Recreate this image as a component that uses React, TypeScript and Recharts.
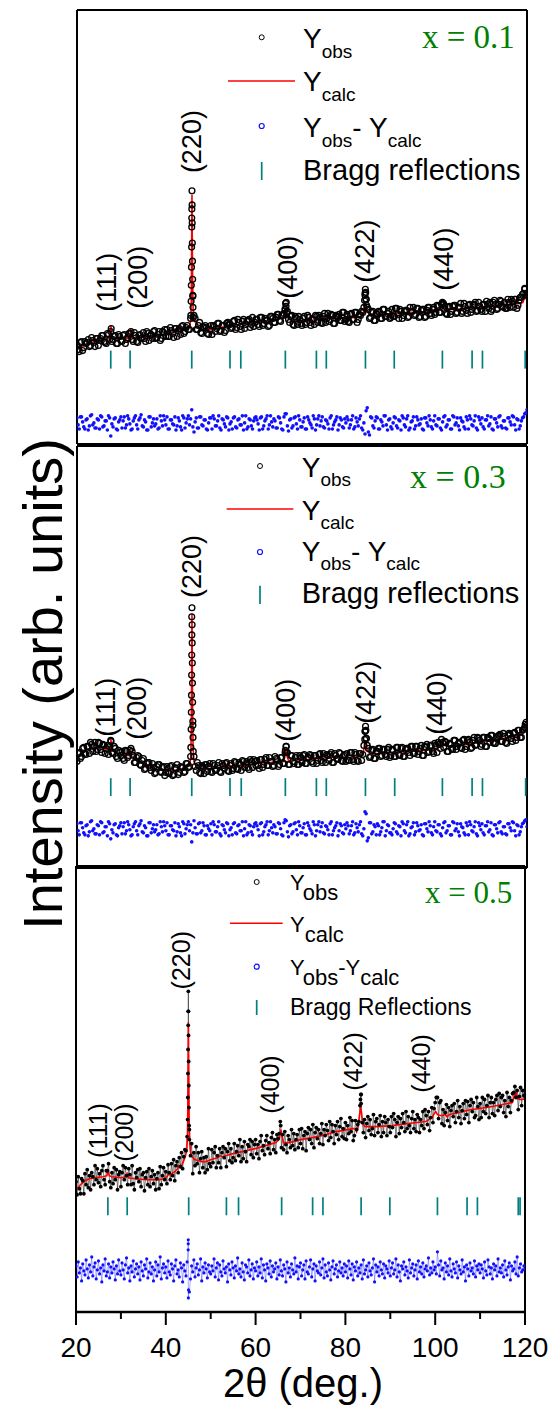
import React from 'react';
import { ComposedChart, Line, Scatter, XAxis, YAxis } from 'recharts';

// scan grid of the observed patterns (2theta, deg.)
const START = 20;
const STEP_HALF = 0.5;
const STEP_QUARTER = 0.25;

// ---------- x = 0.1 (intensity, arb. units) ----------
// observed, at 20.0, 20.5, 21.0 ...
const obsA = [
  98, 92, 102, 96, 100, 104, 98, 103, 97, 105, 103, 108, 102, 100, 109, 112, 104, 108, 100, 107,
  102, 109, 104, 110, 112, 102, 108, 101, 109, 106, 105, 112, 103, 109, 112, 105, 109, 103, 112, 114,
  114, 107, 113, 106, 115, 113, 109, 118, 112, 118, 114, 225, 128, 114, 118, 111, 117, 118, 110, 114,
  109, 117, 115, 120, 113, 118, 113, 121, 119, 116, 123, 116, 121, 114, 124, 119, 123, 116, 126, 121,
  124, 117, 126, 120, 123, 117, 127, 125, 121, 129, 123, 128, 130, 141, 124, 127, 119, 127, 119, 124,
  118, 127, 121, 126, 118, 124, 128, 121, 126, 120, 130, 125, 122, 129, 120, 128, 126, 123, 131, 122,
  129, 121, 130, 124, 131, 124, 128, 131, 148, 136, 125, 131, 123, 130, 132, 125, 134, 127, 130, 125,
  134, 127, 135, 125, 132, 128, 133, 126, 136, 132, 128, 135, 126, 133, 134, 127, 136, 130, 134, 129,
  138, 131, 139, 139, 130, 136, 129, 137, 138, 131, 136, 130, 140, 133, 138, 131, 138, 141, 133, 137,
  132, 139, 142, 135, 132, 141, 139, 135, 143, 137, 141, 135, 141, 144, 136, 144, 138, 146, 149, 154,
  148,
];
// observed, at 20.25, 20.75, 21.25 ...
const obsA2 = [
  94, 101, 93, 102, 101, 97, 106, 101, 105, 98, 105, 108, 101, 110, 104, 102, 107, 100, 109, 103,
  108, 100, 106, 110, 104, 111, 102, 108, 105, 111, 102, 110, 108, 105, 113, 106, 112, 105, 111, 107,
  107, 116, 110, 115, 107, 115, 117, 110, 116, 114, 125, 147, 125, 114, 121, 110, 116, 116, 109, 118,
  118, 112, 120, 112, 118, 111, 120, 119, 115, 122, 114, 124, 117, 122, 115, 122, 124, 119, 117, 124,
  119, 126, 118, 125, 123, 118, 127, 121, 126, 129, 122, 128, 134, 132, 121, 128, 118, 125, 127, 120,
  125, 119, 128, 121, 124, 119, 127, 128, 121, 127, 121, 130, 124, 128, 120, 127, 129, 123, 131, 124,
  122, 129, 124, 131, 121, 129, 132, 136, 144, 134, 126, 132, 123, 129, 131, 125, 134, 127, 132, 126,
  127, 135, 129, 134, 125, 132, 133, 127, 132, 136, 129, 135, 127, 134, 126, 133, 136, 128, 136, 131,
  137, 131, 140, 137, 129, 137, 132, 138, 130, 136, 140, 132, 137, 130, 139, 134, 139, 132, 141, 134,
  139, 132, 139, 141, 134, 143, 134, 139, 142, 136, 135, 144, 136, 142, 144, 135, 143, 146, 150, 150,
];
const obsPeaksA: [number, number][] = [
  [27.6, 115], [45.3, 128], [45.36, 142], [45.4, 158], [45.44, 176], [45.47, 196], [45.5, 216],
  [45.52, 234], [45.55, 252], [45.58, 238], [45.6, 220], [45.63, 200], [45.66, 182], [45.7, 164],
  [45.74, 148], [45.78, 136], [45.84, 126], [66.25, 134], [66.35, 140], [66.45, 137], [66.6, 130],
  [83.9, 143], [84.0, 150], [84.08, 154], [84.16, 151], [84.25, 144], [84.35, 138], [101.2, 141],
  [101.4, 140], [119.5, 155],
];
const calcA: [number, number][] = [
  [20, 95], [21, 97], [22, 99], [23, 101], [24, 102], [25, 103], [26, 104], [27.4, 105], [27.55, 118],
  [27.7, 105], [29, 105], [31, 105], [31.8, 106], [31.95, 115], [32.1, 106], [34, 106], [36, 107],
  [38, 108], [40, 110], [42, 112], [44, 114], [45, 117], [45.3, 124], [45.4, 145], [45.47, 190],
  [45.55, 248], [45.63, 195], [45.7, 160], [45.8, 135], [46, 124], [46.5, 119], [47, 116], [48, 114],
  [49, 113], [50, 114], [52, 116], [53.9, 118], [54.0, 121], [54.1, 118], [56, 119], [58, 120],
  [60, 121], [62, 122], [64, 123], [65.8, 126], [66.2, 131], [66.4, 136], [66.6, 130], [67, 125],
  [68, 123], [69.5, 122], [72, 123], [75, 125], [78, 125], [82, 126], [83, 127], [83.6, 130],
  [83.9, 136], [84.1, 141], [84.3, 136], [84.6, 131], [85.2, 128], [87, 128], [90, 130], [94, 131],
  [98, 131], [100, 133], [100.8, 134], [101.3, 136], [101.8, 134], [104, 134], [107, 135], [110, 136],
  [113, 138], [116, 139], [118.6, 140], [119.1, 141], [119.4, 145], [120, 145],
];
// difference, at 20.0, 20.5 ...
const diffA = [
  26, 15, 27, 17, 24, 14, 28, 19, 16, 25, 15, 27, 18, 23, 28, 8, 17, 26, 14, 24,
  16, 27, 19, 25, 14, 23, 28, 15, 26, 18, 24, 14, 27, 17, 25, 20, 15, 28, 18, 24,
  27, 15, 24, 19, 14, 26, 17, 28, 16, 25, 19, 34, 12, 26, 16, 27, 18, 24, 14, 26,
  15, 25, 18, 28, 14, 24, 17, 26, 20, 15, 27, 16, 25, 19, 14, 28, 17, 24, 15, 26,
  24, 14, 27, 18, 25, 15, 28, 17, 23, 16, 26, 15, 27, 30, 13, 25, 18, 27, 15, 24,
  17, 26, 15, 24, 19, 28, 14, 25, 18, 27, 16, 23, 15, 28, 19, 24, 14, 26, 17, 25,
  27, 16, 24, 15, 26, 18, 28, 14, 10, 36, 9, 26, 16, 27, 15, 24, 18, 28, 14, 25,
  15, 27, 18, 24, 14, 26, 17, 28, 16, 23, 15, 27, 19, 25, 14, 26, 18, 24, 15, 28,
  18, 25, 14, 27, 17, 24, 15, 28, 19, 26, 14, 23, 17, 27, 15, 25, 18, 28, 14, 24,
  26, 15, 24, 18, 27, 14, 25, 17, 28, 16, 23, 15, 26, 19, 27, 14, 24, 18, 26, 30,
  34,
];
// difference, at 20.25, 20.75 ...
const diffA2 = [
  19, 27, 22, 15, 25, 18, 29, 21, 16, 24, 28, 17, 23, 14, 26, 20, 25, 15, 22, 27,
  23, 16, 28, 20, 15, 26, 19, 24, 29, 17, 22, 14, 27, 21, 18, 25, 16, 23, 28, 19,
  15, 24, 20, 27, 18, 23, 14, 26, 21, 28, 25, 17, 22, 16, 27, 19, 24, 15, 21, 26,
  28, 18, 23, 16, 25, 20, 27, 14, 22, 26, 17, 24, 19, 28, 21, 15, 25, 18, 23, 27,
  20, 26, 15, 23, 28, 19, 22, 25, 16, 27, 21, 14, 30, 18, 24, 16, 26, 20, 28, 17,
  22, 15, 27, 21, 16, 25, 19, 28, 23, 17, 24, 20, 26, 15, 22, 27, 19, 24, 16, 21,
  24, 19, 28, 17, 22, 25, 16, 21, 33, 12, 27, 18, 23, 26, 15, 22, 28, 19, 24, 17,
  21, 26, 16, 23, 28, 19, 25, 14, 22, 27, 18, 24, 20, 15, 26, 21, 28, 17, 23, 19,
  25, 16, 22, 28, 19, 24, 15, 27, 21, 18, 26, 22, 15, 24, 28, 19, 23, 16, 27, 20,
  17, 24, 28, 20, 15, 25, 21, 27, 18, 23, 16, 26, 22, 28, 19, 25, 15, 23, 27, 31,
];
const braggA = [27.5, 31.8, 45.5, 54.0, 56.4, 66.3, 73.2, 75.4, 84.1, 90.5, 101.2, 107.8, 110.1, 119.6];
const hklPosA: [number, number][] = [[26.7, 161], [33.6, 166], [45.5, 301], [66.8, 176], [84.1, 192], [101.5, 184]];

// ---------- x = 0.3 ----------
const obsB = [
  106, 115, 111, 120, 113, 121, 125, 116, 125, 118, 124, 115, 122, 119, 113, 127, 114, 119, 109, 115,
  116, 107, 116, 112, 119, 112, 105, 112, 103, 107, 98, 104, 105, 97, 100, 95, 103, 96, 100, 92,
  101, 94, 102, 93, 99, 93, 101, 100, 96, 104, 101, 250, 111, 97, 102, 94, 101, 103, 96, 104,
  95, 102, 98, 105, 95, 102, 104, 97, 102, 97, 106, 99, 105, 97, 106, 103, 100, 108, 100, 106,
  107, 99, 108, 103, 110, 102, 106, 101, 111, 108, 103, 110, 104, 121, 103, 112, 106, 110, 103, 112,
  105, 113, 104, 110, 112, 104, 112, 107, 114, 105, 110, 113, 107, 115, 105, 112, 108, 114, 106, 113,
  114, 107, 115, 106, 113, 106, 114, 113, 136, 122, 110, 117, 109, 116, 119, 111, 118, 113, 118, 110,
  118, 111, 120, 113, 119, 111, 118, 119, 112, 121, 114, 121, 116, 122, 112, 120, 115, 122, 116, 124,
  115, 123, 128, 120, 125, 116, 123, 118, 127, 121, 125, 119, 128, 121, 128, 119, 127, 122, 130, 127,
  123, 130, 121, 129, 132, 125, 124, 131, 133, 126, 131, 124, 134, 129, 134, 127, 137, 130, 137, 140,
  142,
];
const obsB2 = [
  114, 109, 119, 114, 121, 114, 123, 121, 116, 125, 118, 123, 114, 122, 121, 115, 121, 111, 117, 112,
  109, 117, 110, 117, 116, 105, 110, 111, 102, 109, 99, 105, 100, 104, 94, 101, 103, 95, 101, 95,
  95, 101, 92, 100, 103, 95, 100, 95, 104, 100, 111, 142, 101, 105, 95, 102, 94, 103, 101, 96,
  104, 97, 102, 96, 104, 99, 105, 96, 104, 99, 105, 98, 103, 107, 100, 106, 98, 106, 108, 102,
  102, 108, 100, 108, 102, 110, 106, 102, 109, 101, 110, 104, 115, 115, 103, 112, 104, 112, 103, 110,
  112, 104, 110, 113, 106, 112, 104, 113, 107, 114, 105, 112, 113, 105, 114, 109, 115, 107, 112, 106,
  107, 115, 108, 115, 107, 114, 107, 122, 129, 119, 111, 118, 109, 116, 119, 112, 118, 111, 120, 112,
  117, 111, 120, 112, 120, 111, 119, 115, 121, 114, 121, 113, 119, 112, 121, 123, 116, 122, 114, 122,
  125, 119, 125, 126, 116, 124, 119, 127, 118, 124, 120, 127, 118, 127, 125, 120, 130, 123, 129, 121,
  130, 121, 130, 125, 132, 124, 130, 132, 126, 134, 125, 132, 133, 126, 135, 130, 137, 130, 138, 139,
];
const obsPeaksB: [number, number][] = [
  [27.55, 126], [45.3, 120], [45.36, 138], [45.4, 155], [45.44, 172], [45.47, 192], [45.5, 212],
  [45.52, 232], [45.55, 259], [45.58, 242], [45.6, 224], [45.63, 204], [45.66, 184], [45.7, 165],
  [45.74, 146], [45.78, 130], [45.84, 116], [66.3, 117], [66.45, 121], [66.6, 115], [83.95, 128],
  [84.05, 136], [84.12, 141], [84.2, 137], [84.3, 129], [119.6, 143], [119.8, 145],
];
const calcB: [number, number][] = [
  [20, 109], [21, 113], [22, 117], [23, 119], [24, 120], [25, 120], [26, 119], [27.4, 117], [27.55, 128],
  [27.7, 117], [29, 114], [30.5, 112], [31.7, 112], [31.85, 117], [32, 111], [33, 109], [34, 106],
  [35, 103], [36, 101], [37, 99], [38, 98], [39, 97], [42, 97], [44, 99], [45, 102], [45.3, 110],
  [45.4, 140], [45.47, 190], [45.55, 253], [45.63, 195], [45.7, 155], [45.8, 120], [46, 106],
  [46.5, 101], [47.5, 99], [50, 99], [53.5, 100], [54.0, 102], [54.2, 100], [57, 102], [60, 104],
  [63, 105], [65.9, 106], [66.2, 112], [66.4, 118], [66.6, 112], [67, 107], [70, 108], [72, 108],
  [76, 110], [81.7, 110], [83, 112], [83.6, 115], [83.9, 122], [84.1, 127], [84.3, 121], [84.6, 116],
  [85.3, 114], [87, 114], [90, 115], [94, 116], [97, 117], [100.1, 119], [100.8, 121], [101.2, 123],
  [101.7, 122], [103, 121], [105.3, 122], [108, 124], [110, 126], [112.7, 127], [116, 130],
  [118.7, 132], [119.2, 135], [119.5, 137], [120, 137],
];
const diffB = [
  44, 33, 45, 35, 42, 32, 46, 37, 34, 43, 33, 45, 36, 41, 46, 29, 35, 44, 32, 42,
  34, 45, 37, 43, 32, 41, 46, 33, 44, 36, 42, 32, 45, 35, 43, 38, 33, 46, 36, 42,
  45, 33, 42, 37, 32, 44, 35, 46, 34, 43, 37, 26, 47, 34, 44, 35, 45, 33, 42, 37,
  33, 43, 36, 46, 32, 42, 35, 44, 38, 33, 45, 34, 43, 37, 32, 46, 35, 42, 33, 44,
  42, 32, 45, 36, 43, 33, 46, 35, 41, 34, 44, 33, 45, 47, 31, 43, 36, 45, 33, 42,
  35, 44, 33, 42, 37, 46, 32, 43, 36, 45, 34, 41, 33, 46, 37, 42, 32, 44, 35, 43,
  45, 34, 42, 33, 44, 36, 46, 32, 56, 27, 45, 34, 43, 33, 42, 36, 46, 32, 43, 35,
  33, 45, 36, 42, 32, 44, 35, 46, 34, 41, 33, 45, 37, 43, 32, 44, 36, 42, 33, 46,
  36, 43, 32, 45, 35, 42, 33, 46, 37, 44, 32, 41, 35, 45, 33, 43, 36, 46, 32, 42,
  44, 33, 42, 36, 45, 32, 43, 35, 46, 34, 41, 33, 44, 37, 45, 32, 42, 36, 44, 47,
  41,
];
const diffB2 = [
  37, 45, 40, 33, 43, 36, 47, 39, 34, 42, 46, 35, 41, 32, 44, 38, 43, 33, 40, 45,
  41, 34, 46, 38, 33, 44, 37, 42, 47, 35, 40, 32, 45, 39, 36, 43, 34, 41, 46, 37,
  33, 42, 38, 45, 36, 41, 32, 44, 39, 46, 43, 35, 40, 34, 45, 37, 42, 33, 39, 44,
  46, 36, 41, 34, 43, 38, 45, 32, 40, 44, 35, 42, 37, 46, 39, 33, 43, 36, 41, 45,
  38, 44, 33, 41, 46, 37, 40, 43, 34, 45, 39, 32, 48, 36, 42, 34, 44, 38, 46, 35,
  40, 33, 45, 39, 34, 43, 37, 46, 41, 35, 42, 38, 44, 33, 40, 45, 37, 42, 34, 39,
  42, 37, 46, 35, 40, 43, 34, 39, 54, 30, 45, 36, 41, 44, 33, 40, 46, 37, 42, 35,
  39, 44, 34, 41, 46, 37, 43, 32, 40, 45, 36, 42, 38, 33, 44, 39, 46, 35, 41, 37,
  43, 34, 40, 46, 37, 42, 33, 45, 39, 36, 44, 40, 33, 42, 46, 37, 41, 34, 45, 38,
  35, 42, 46, 38, 33, 43, 39, 45, 36, 41, 34, 44, 40, 46, 37, 43, 33, 41, 45, 48,
];
const braggB = [27.5, 31.8, 45.5, 54.0, 56.5, 66.3, 73.2, 75.4, 84.1, 90.6, 101.2, 107.8, 110.1, 119.7];
const hklPosB: [number, number][] = [[26.5, 160], [33.4, 159], [45.5, 300], [66.5, 157], [84.3, 175], [99.9, 164]];

// ---------- x = 0.5 ----------
const obsC = [
  130, 117, 135, 123, 118, 133, 131, 118, 138, 127, 142, 124, 136, 122, 139, 135, 127, 146, 132, 143,
  129, 138, 125, 141, 146, 132, 127, 141, 141, 148, 130, 124, 139, 128, 144, 132, 142, 122, 137, 140,
  125, 139, 146, 132, 144, 136, 127, 143, 137, 127, 146, 128, 122, 139, 134, 142, 130, 143, 125, 137,
  139, 121, 134, 140, 127, 143, 125, 135, 141, 128, 137, 122, 133, 139, 123, 145, 127, 136, 144, 132,
  140, 128, 147, 139, 132, 148, 136, 152, 131, 146, 150, 139, 154, 145, 159, 143, 155, 162, 161, 175,
  300, 182, 156, 168, 138, 159, 146, 165, 148, 159, 139, 153, 160, 144, 154, 139, 155, 142, 163, 148,
  145, 162, 149, 159, 165, 144, 156, 149, 163, 144, 159, 165, 154, 163, 145, 160, 168, 151, 163, 149,
  154, 168, 151, 160, 166, 156, 172, 150, 165, 153, 170, 160, 150, 167, 165, 172, 157, 170, 154, 167,
  172, 158, 167, 153, 170, 176, 161, 166, 157, 171, 176, 163, 169, 158, 174, 179, 162, 172, 159, 177,
  173, 178, 190, 164, 177, 162, 180, 167, 159, 176, 172, 164, 182, 166, 178, 162, 172, 177, 164, 182,
  168, 183, 163, 176, 180, 161, 178, 184, 172, 182, 168, 187, 164, 179, 184, 173, 182, 168, 178, 188,
  167, 182, 176, 187, 181, 171, 190, 174, 187, 180, 168, 186, 177, 190, 172, 185, 193, 175, 183, 173,
  189, 172, 186, 178, 194, 180, 191, 171, 176, 191, 182, 187, 190, 206, 217, 189, 179, 192, 174, 188,
  195, 181, 192, 177, 183, 197, 176, 190, 193, 179, 187, 196, 175, 190, 179, 195, 189, 176, 192, 185,
  179, 195, 184, 198, 192, 175, 189, 195, 178, 193, 184, 198, 189, 180, 200, 183, 195, 186, 179, 193,
  200, 183, 192, 180, 197, 194, 179, 192, 186, 200, 183, 202, 196, 187, 200, 181, 194, 204, 189, 203,
  209, 214, 214, 193, 209, 211, 188, 202, 186, 199, 207, 191, 204, 185, 201, 206, 195, 208, 189, 200,
  211, 194, 205, 188, 201, 208, 193, 211, 197, 210, 189, 206, 212, 200, 209, 194, 196, 214, 205, 192,
  208, 194, 214, 200, 212, 198, 206, 216, 194, 209, 214, 198, 209, 196, 212, 216, 201, 218, 205, 214,
  216, 199, 211, 195, 219, 205, 214, 199, 211, 218, 219, 225, 214, 221, 202, 215, 224, 206, 221, 216,
  215,
];
const obsPeaksC: [number, number][] = [
  [44.86, 192], [44.9, 214], [44.93, 238], [44.96, 262], [44.99, 286], [45.02, 320], [45.04, 300],
  [45.06, 276], [45.09, 250], [45.12, 226], [45.15, 204], [45.19, 186], [45.24, 172], [83.35, 212],
  [83.45, 217], [83.5, 208], [65.6, 186],
];
const calcC: [number, number][] = [
  [20, 122], [21, 127], [22, 131], [23, 133], [24, 134], [26, 135], [26.9, 136], [27.1, 142], [27.4, 136],
  [28, 135], [30, 134], [31.1, 135], [31.4, 138], [31.7, 134], [33, 133], [36, 132], [38.5, 132],
  [39.5, 133], [40.3, 135], [40.7, 138], [41.0, 137], [42, 140], [42.6, 143], [42.9, 146], [43.2, 144],
  [43.6, 147], [44, 151], [44.4, 156], [44.7, 163], [44.85, 178], [44.95, 230], [45.03, 289],
  [45.1, 240], [45.2, 190], [45.35, 168], [45.5, 160], [45.8, 156], [46.2, 153], [46.6, 152], [48, 150],
  [48.9, 150], [50, 152], [51.5, 154], [52.1, 156], [52.6, 155], [53.3, 156], [55, 158], [58, 161],
  [60.8, 164], [63, 167], [64.5, 169], [65.2, 172], [65.5, 178], [65.65, 182], [65.9, 175], [66.2, 169],
  [67.5, 169], [70, 172], [72.7, 174], [75.6, 177], [78, 180], [81.6, 183], [82.3, 183], [82.5, 180],
  [82.8, 184], [83.2, 198], [83.4, 205], [83.6, 198], [83.8, 190], [84.1, 186], [84.5, 185], [87, 185],
  [90.4, 186], [94, 188], [97.9, 190], [99.3, 194], [99.8, 198], [100.1, 200], [100.5, 197], [101.0, 196],
  [101.6, 196], [102.2, 197], [102.6, 195], [103.2, 197], [105.3, 199], [108, 202], [110, 203],
  [112.7, 205], [115, 207], [117.2, 209], [117.5, 214], [117.7, 220], [117.9, 214], [118.1, 219],
  [118.3, 213], [118.8, 212], [119.5, 212], [120, 213],
];
const diffC = [
  46, 35, 50, 39, 44, 31, 48, 41, 37, 52, 43, 34, 47, 40, 55, 36, 45, 49, 33, 42,
  51, 38, 44, 30, 47, 41, 53, 36, 40, 48, 34, 45, 39, 50, 43, 32, 46, 38, 52, 41,
  37, 49, 42, 33, 47, 54, 39, 44, 31, 46, 40, 51, 35, 43, 48, 38, 45, 32, 50, 41,
  36, 47, 43, 53, 34, 40, 49, 38, 45, 31, 42, 50, 36, 47, 40, 55, 33, 44, 48, 39,
  45, 34, 51, 40, 37, 48, 43, 31, 46, 52, 38, 42, 35, 49, 44, 30, 47, 41, 36, 50,
  72, 20, 33, 46, 40, 52, 35, 44, 48, 37, 42, 53, 31, 45, 39, 49, 43, 34, 47, 40,
  38, 46, 41, 53, 35, 44, 49, 32, 47, 40, 36, 51, 43, 39, 45, 30, 48, 42, 37, 50,
  44, 34, 46, 41, 54, 38, 43, 35, 49, 40, 32, 47, 45, 39, 52, 36, 42, 48, 33, 44,
  41, 50, 36, 45, 39, 53, 34, 47, 42, 31, 48, 44, 38, 51, 35, 46, 40, 43, 49, 33,
  45, 37, 52, 41, 36, 47, 43, 30, 50, 39, 44, 35, 48, 42, 38, 54, 40, 46, 33, 45,
  49, 36, 42, 47, 33, 51, 40, 38, 45, 52, 35, 43, 48, 31, 46, 41, 39, 50, 37, 44,
  53, 34, 47, 40, 36, 49, 42, 32, 45, 51, 38, 43, 47, 35, 41, 50, 39, 44, 36, 48,
  40, 46, 34, 51, 43, 37, 48, 32, 45, 41, 50, 36, 44, 39, 47, 33, 52, 38, 42, 46,
  35, 49, 41, 37, 44, 53, 30, 47, 40, 45, 36, 50, 42, 38, 48, 34, 46, 43, 39, 51,
  36, 44, 49, 38, 42, 53, 35, 47, 40, 31, 46, 43, 50, 37, 45, 41, 34, 52, 39, 44,
  48, 36, 42, 47, 33, 51, 40, 45, 38, 49, 35, 43, 46, 41, 54, 37, 44, 39, 50, 42,
  45, 38, 60, 47, 36, 51, 42, 44, 33, 49, 40, 46, 37, 53, 41, 35, 48, 43, 39, 50,
  34, 46, 42, 38, 52, 40, 45, 31, 47, 43, 36, 49, 41, 44, 38, 51, 35, 46, 42, 48,
  39, 47, 43, 34, 50, 41, 37, 52, 45, 38, 44, 33, 48, 42, 46, 36, 53, 40, 44, 39,
  47, 35, 51, 42, 37, 45, 49, 32, 46, 41, 43, 50, 38, 55, 36, 44, 48, 40, 42, 46,
  43,
];
const diffPeaksC: [number, number][] = [[44.98, 62], [45.0, 68], [45.03, 14], [45.06, 22]];
const braggC = [27.1, 31.4, 45.1, 53.5, 56.2, 65.8, 72.7, 75.0, 83.5, 89.9, 100.5, 107.1, 109.4, 118.5, 118.9];
const hklPosC: [number, number][] = [[24.9, 181], [30.7, 179], [43.4, 351], [63.3, 227], [81.6, 250], [96.8, 248]];

const hklNames = ['(111)', '(200)', '(220)', '(400)', '(422)', '(440)'];
const majorTicks = [20, 40, 60, 80, 100, 120];
const bottomTicks = [20, 30, 40, 50, 60, 70, 80, 90, 100, 110, 120];
const edgeTicks = [30, 40, 50, 60, 70, 80, 90, 100, 110];
const yTicksA = [77, 177, 275, 372];
const yTicksB = [35, 122, 210, 297, 385];
const yTicksC = [24, 49, 73, 98, 123, 148, 172, 197, 222, 247, 272, 296, 321, 346, 371, 395, 420];

const SANS = '"Liberation Sans", Arial, sans-serif';
const SERIF = '"Liberation Serif", "Times New Roman", serif';
const TEAL = '#008080';
const BLUE = '#1010ff';

const grid = (vals: number[], from: number, step: number) => vals.map((y, i) => ({ x: from + i * step, y }));
const pts = (list: [number, number][]) => list.map(([x, y]) => ({ x, y }));

const openCircle = (p: any) => <circle cx={p.cx} cy={p.cy} r={2.9} fill="none" stroke="#000" strokeWidth={1.35} />;
const blackDot = (p: any) => <circle cx={p.cx} cy={p.cy} r={1.9} fill="#000" />;
const blueDot = (p: any) => <circle cx={p.cx} cy={p.cy} r={1.6} fill={BLUE} />;
const blueDotBig = (p: any) => <circle cx={p.cx} cy={p.cy} r={1.8} fill={BLUE} />;
const braggMark = (p: any) => (
  <line x1={p.cx} x2={p.cx} y1={p.cy - 9} y2={p.cy + 9} stroke={TEAL} strokeWidth={1.7} />
);

function BottomTick(props: any) {
  const { x, y, payload } = props;
  const major = majorTicks.includes(payload.value);
  return (
    <g>
      <line x1={x} x2={x} y1={y} y2={y + (major ? 13 : 7)} stroke="#000" strokeWidth={2} />
      {major && (
        <text x={x} y={y + 45} textAnchor="middle" fontSize={28} fontFamily={SANS} fill="#000">
          {payload.value}
        </text>
      )}
    </g>
  );
}

interface PanelCfg {
  top: number;
  height: number;
  left: number;
  right: number;
  bottom: boolean;
  obs: { x: number; y: number }[];
  calc: { x: number; y: number }[];
  diff: { x: number; y: number }[];
  bragg: number[];
  braggY: number;
  hkl: [number, number][];
  hklSize: number;
  yTicks: number[];
}

function Panel({ c }: { c: PanelCfg }) {
  const axisH = c.bottom ? 94 : 1;
  const chartH = c.height + 10 + (c.bottom ? axisH : 10);
  const braggData = c.bragg.map((x) => ({ x, y: c.braggY }));
  const hklData = c.hkl.map(([x, y], i) => ({ x, y, name: hklNames[i] }));
  const hklLabel = (p: any) => (
    <text
      x={p.cx}
      y={p.cy}
      transform={`rotate(-90 ${p.cx} ${p.cy})`}
      textAnchor="middle"
      dominantBaseline="central"
      fontSize={c.hklSize}
      fontFamily={SANS}
      fill="#000"
    >
      {p.payload.name}
    </text>
  );
  return (
    <div style={{ position: 'absolute', left: 0, top: c.top - 10 }}>
      <ComposedChart
        width={558}
        height={chartH}
        margin={{ top: 9, right: 558 - c.right - 1, bottom: c.bottom ? 0 : 9, left: c.left - 1 }}
      >
        {c.bottom ? (
          <XAxis
            dataKey="x"
            type="number"
            domain={[20, 120]}
            allowDataOverflow
            ticks={bottomTicks}
            interval={0}
            height={axisH}
            tickSize={0}
            tickMargin={0}
            tickLine={false}
            tick={<BottomTick />}
            axisLine={{ stroke: '#000', strokeWidth: 2.5 }}
          />
        ) : (
          <XAxis
            dataKey="x"
            type="number"
            domain={[20, 120]}
            allowDataOverflow
            ticks={edgeTicks}
            interval={0}
            height={1}
            mirror
            tickSize={4}
            tick={false}
            tickLine={{ stroke: '#000', strokeWidth: 1 }}
            axisLine={{ stroke: '#000', strokeWidth: 2 }}
          />
        )}
        <XAxis
          xAxisId="top"
          orientation="top"
          type="number"
          domain={[20, 120]}
          allowDataOverflow
          ticks={edgeTicks}
          interval={0}
          height={1}
          mirror
          tickSize={4}
          tick={false}
          tickLine={{ stroke: '#000', strokeWidth: 1 }}
          axisLine={{ stroke: '#000', strokeWidth: 2 }}
        />
        <YAxis
          dataKey="y"
          type="number"
          domain={[0, c.height]}
          allowDataOverflow
          width={1}
          mirror
          ticks={c.yTicks}
          interval={0}
          tickSize={4}
          tick={false}
          tickLine={{ stroke: '#000', strokeWidth: 1.5 }}
          axisLine={{ stroke: '#000', strokeWidth: 2 }}
        />
        <YAxis
          yAxisId="right"
          orientation="right"
          type="number"
          domain={[0, c.height]}
          width={1}
          tick={false}
          tickLine={false}
          axisLine={{ stroke: '#000', strokeWidth: 2 }}
        />
        {c.bottom && (
          <Line
            data={c.obs}
            dataKey="y"
            type="linear"
            stroke="#000"
            strokeWidth={0.6}
            strokeOpacity={0.8}
            dot={false}
            activeDot={false}
            isAnimationActive={false}
          />
        )}
        <Scatter data={c.obs} dataKey="y" shape={c.bottom ? blackDot : openCircle} isAnimationActive={false} />
        <Line
          data={c.calc}
          dataKey="y"
          type="linear"
          stroke="#ff0000"
          strokeWidth={1.6}
          dot={false}
          activeDot={false}
          isAnimationActive={false}
        />
        {c.bottom && (
          <Line
            data={c.diff}
            dataKey="y"
            type="linear"
            stroke={BLUE}
            strokeWidth={0.5}
            strokeOpacity={0.7}
            dot={false}
            activeDot={false}
            isAnimationActive={false}
          />
        )}
        <Scatter data={c.diff} dataKey="y" shape={c.bottom ? blueDot : blueDotBig} isAnimationActive={false} />
        <Scatter data={braggData} dataKey="y" shape={braggMark} isAnimationActive={false} />
        <Scatter data={hklData} dataKey="y" shape={hklLabel} isAnimationActive={false} />
      </ComposedChart>
    </div>
  );
}

interface LegendCfg {
  symX: number;
  lineX: [number, number];
  textX: number;
  rows: [number, number][]; // [symbol y, text baseline]
  bragg: [number, number, number];
  main: number;
  sub: number;
  subDy: number;
  braggSize: number;
  braggText: string;
  sep: string;
  comp: string;
  compX: number;
  compY: number;
  compSize: number;
}

function PanelLegend({ l }: { l: LegendCfg }) {
  const [r1, r2, r3] = l.rows;
  return (
    <g fontFamily={SANS} fill="#000">
      <circle cx={l.symX} cy={r1[0]} r={2.5} fill="none" stroke="#000" strokeWidth={1} />
      <text x={l.textX} y={r1[1]} fontSize={l.main}>
        Y<tspan fontSize={l.sub} dy={l.subDy}>obs</tspan>
      </text>
      <line x1={l.lineX[0]} x2={l.lineX[1]} y1={r2[0]} y2={r2[0]} stroke="#ff0000" strokeWidth={1.5} />
      <text x={l.textX} y={r2[1]} fontSize={l.main}>
        Y<tspan fontSize={l.sub} dy={l.subDy}>calc</tspan>
      </text>
      <circle cx={l.symX} cy={r3[0]} r={2.5} fill="none" stroke={BLUE} strokeWidth={1.2} />
      <text x={l.textX} y={r3[1]} fontSize={l.main}>
        Y<tspan fontSize={l.sub} dy={l.subDy}>obs</tspan>
        <tspan fontSize={l.main} dy={-l.subDy}>{l.sep}Y</tspan>
        <tspan fontSize={l.sub} dy={l.subDy}>calc</tspan>
      </text>
      <line x1={l.symX} x2={l.symX} y1={l.bragg[0]} y2={l.bragg[1]} stroke={TEAL} strokeWidth={1.7} />
      <text x={l.textX} y={l.bragg[2]} fontSize={l.braggSize}>
        {l.braggText}
      </text>
      <text x={l.compX} y={l.compY} fontSize={l.compSize} fontFamily={SERIF} fill="#008000">
        {l.comp}
      </text>
    </g>
  );
}

const panels: PanelCfg[] = [
  {
    top: 11, height: 432, left: 78, right: 527, bottom: false,
    obs: [...grid(obsA, START, STEP_HALF), ...grid(obsA2, START + STEP_QUARTER, STEP_HALF), ...pts(obsPeaksA)],
    calc: pts(calcA),
    diff: [...grid(diffA, START, STEP_HALF), ...grid(diffA2, START + STEP_QUARTER, STEP_HALF)],
    bragg: braggA, braggY: 84, hkl: hklPosA, hklSize: 27, yTicks: yTicksA,
  },
  {
    top: 447, height: 420, left: 78, right: 527, bottom: false,
    obs: [...grid(obsB, START, STEP_HALF), ...grid(obsB2, START + STEP_QUARTER, STEP_HALF), ...pts(obsPeaksB)],
    calc: pts(calcB),
    diff: [...grid(diffB, START, STEP_HALF), ...grid(diffB2, START + STEP_QUARTER, STEP_HALF)],
    bragg: braggB, braggY: 80.5, hkl: hklPosB, hklSize: 27, yTicks: yTicksB,
  },
  {
    top: 867, height: 445, left: 77, right: 525, bottom: true,
    obs: [...grid(obsC, START, STEP_QUARTER), ...pts(obsPeaksC)].sort((a, b) => a.x - b.x),
    calc: pts(calcC),
    diff: [...grid(diffC, START, STEP_QUARTER), ...pts(diffPeaksC)].sort((a, b) => a.x - b.x),
    bragg: braggC, braggY: 105.5, hkl: hklPosC, hklSize: 25, yTicks: yTicksC,
  },
];

const legends: LegendCfg[] = [
  {
    symX: 261.7, lineX: [228, 295], textX: 303, rows: [[37.3, 48], [81, 91], [126, 137]],
    bragg: [162, 180, 180], main: 28, sub: 19, subDy: 10, braggSize: 29, braggText: 'Bragg reflections',
    sep: '- ', comp: 'x = 0.1', compX: 422, compY: 48, compSize: 33,
  },
  {
    symX: 260, lineX: [226.7, 293.3], textX: 301.7, rows: [[466, 476.7], [509, 520], [552, 561]],
    bragg: [585.7, 604, 603], main: 28, sub: 19, subDy: 9, braggSize: 29, braggText: 'Bragg reflections',
    sep: '- ', comp: 'x = 0.3', compX: 410, compY: 488, compSize: 34,
  },
  {
    symX: 256.7, lineX: [230, 282.7], textX: 290, rows: [[882, 890], [923.3, 931.7], [966.7, 975]],
    bragg: [1000, 1015, 1015], main: 22, sub: 22, subDy: 10, braggSize: 23, braggText: 'Bragg Reflections',
    sep: '-', comp: 'x = 0.5', compX: 425, compY: 903, compSize: 31,
  },
];

export default function App() {
  return (
    <div style={{ position: 'absolute', left: 0, top: 0, width: 558, height: 1406, background: '#fff', overflow: 'hidden' }}>
      {panels.map((c, i) => (
        <Panel key={i} c={c} />
      ))}
      <svg width={558} height={1406} style={{ position: 'absolute', left: 0, top: 0, pointerEvents: 'none' }}>
        {legends.map((l, i) => (
          <PanelLegend key={i} l={l} />
        ))}
        <text
          x={62}
          y={684}
          transform="rotate(-90 62 684)"
          textAnchor="middle"
          fontSize={56}
          fontFamily={SANS}
          fill="#000"
        >
          Intensity (arb. units)
        </text>
        <text x={303} y={1397} textAnchor="middle" fontSize={40} fontFamily={SANS} fill="#000">
          2θ (deg.)
        </text>
      </svg>
    </div>
  );
}
